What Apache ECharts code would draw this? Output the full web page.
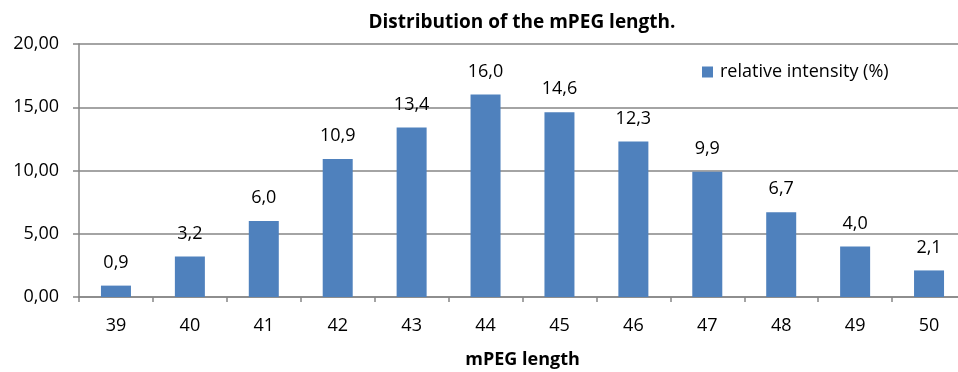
<!DOCTYPE html>
<html>
<head>
<meta charset="utf-8">
<script src="https://cdn.jsdelivr.net/npm/echarts@6/dist/echarts.min.js"></script>
<style>
  html, body { margin: 0; padding: 0; background: #fff; }
  #chart { width: 958px; height: 372px; }
</style>
</head>
<body>
<div id="chart"></div>
<script>
// mPEG length categories
const lengths = ["39", "40", "41", "42", "43", "44", "45", "46", "47", "48", "49", "50"];
// relative intensity (%)
const intensity = [0.9, 3.2, 6.0, 10.9, 13.4, 16.0, 14.6, 12.3, 9.9, 6.7, 4.0, 2.1];

const font = "'Open Sans', sans-serif";
const chart = echarts.init(document.getElementById("chart"));

chart.setOption({
  animation: false,
  textStyle: { fontFamily: font },
  title: {
    text: "Distribution of the mPEG length.",
    left: 517,
    textAlign: "center",
    top: 8,
    textStyle: { fontSize: 19, fontWeight: "bold", color: "#000", fontFamily: font }
  },
  legend: {
    left: 697,
    top: 58,
    itemWidth: 11,
    itemHeight: 11,
    icon: "rect",
    itemGap: 5,
    textStyle: { fontSize: 18, color: "#000", fontFamily: font, padding: [0, 0, 0, 2] },
    data: ["relative intensity (%)"]
  },
  // plot runs a little past the right edge, as in the original
  grid: { left: 79, top: 44, width: 887, height: 253, outerBoundsMode: "none", containLabel: false },
  xAxis: {
    type: "category",
    data: lengths,
    name: "mPEG length",
    nameLocation: "middle",
    nameGap: 54,
    nameTextStyle: { fontSize: 18, fontWeight: "bold", color: "#000", fontFamily: font },
    axisLine: { lineStyle: { color: "#868686", width: 1.5 } },
    axisTick: { show: true, length: 5, lineStyle: { color: "#868686", width: 1.5 } },
    axisLabel: { fontSize: 18, color: "#000", margin: 20, fontFamily: font }
  },
  yAxis: {
    type: "value",
    min: 0,
    max: 20,
    interval: 5,
    axisLine: { show: true, lineStyle: { color: "#868686", width: 1.5 } },
    axisTick: { show: true, length: 6, lineStyle: { color: "#868686", width: 1.5 } },
    splitLine: { lineStyle: { color: "#868686", width: 1.5 } },
    axisLabel: {
      fontSize: 18, color: "#000", margin: 20, fontFamily: font,
      formatter: v => v.toFixed(2).replace(".", ",")
    }
  },
  series: [{
    name: "relative intensity (%)",
    type: "bar",
    data: intensity,
    barWidth: 30,
    itemStyle: { color: "#4F81BD" },
    label: {
      show: true,
      position: "top",
      distance: 14,
      fontSize: 18,
      color: "#000",
      fontFamily: font,
      formatter: p => p.value.toFixed(1).replace(".", ",")
    }
  }]
});
</script>
</body>
</html>
